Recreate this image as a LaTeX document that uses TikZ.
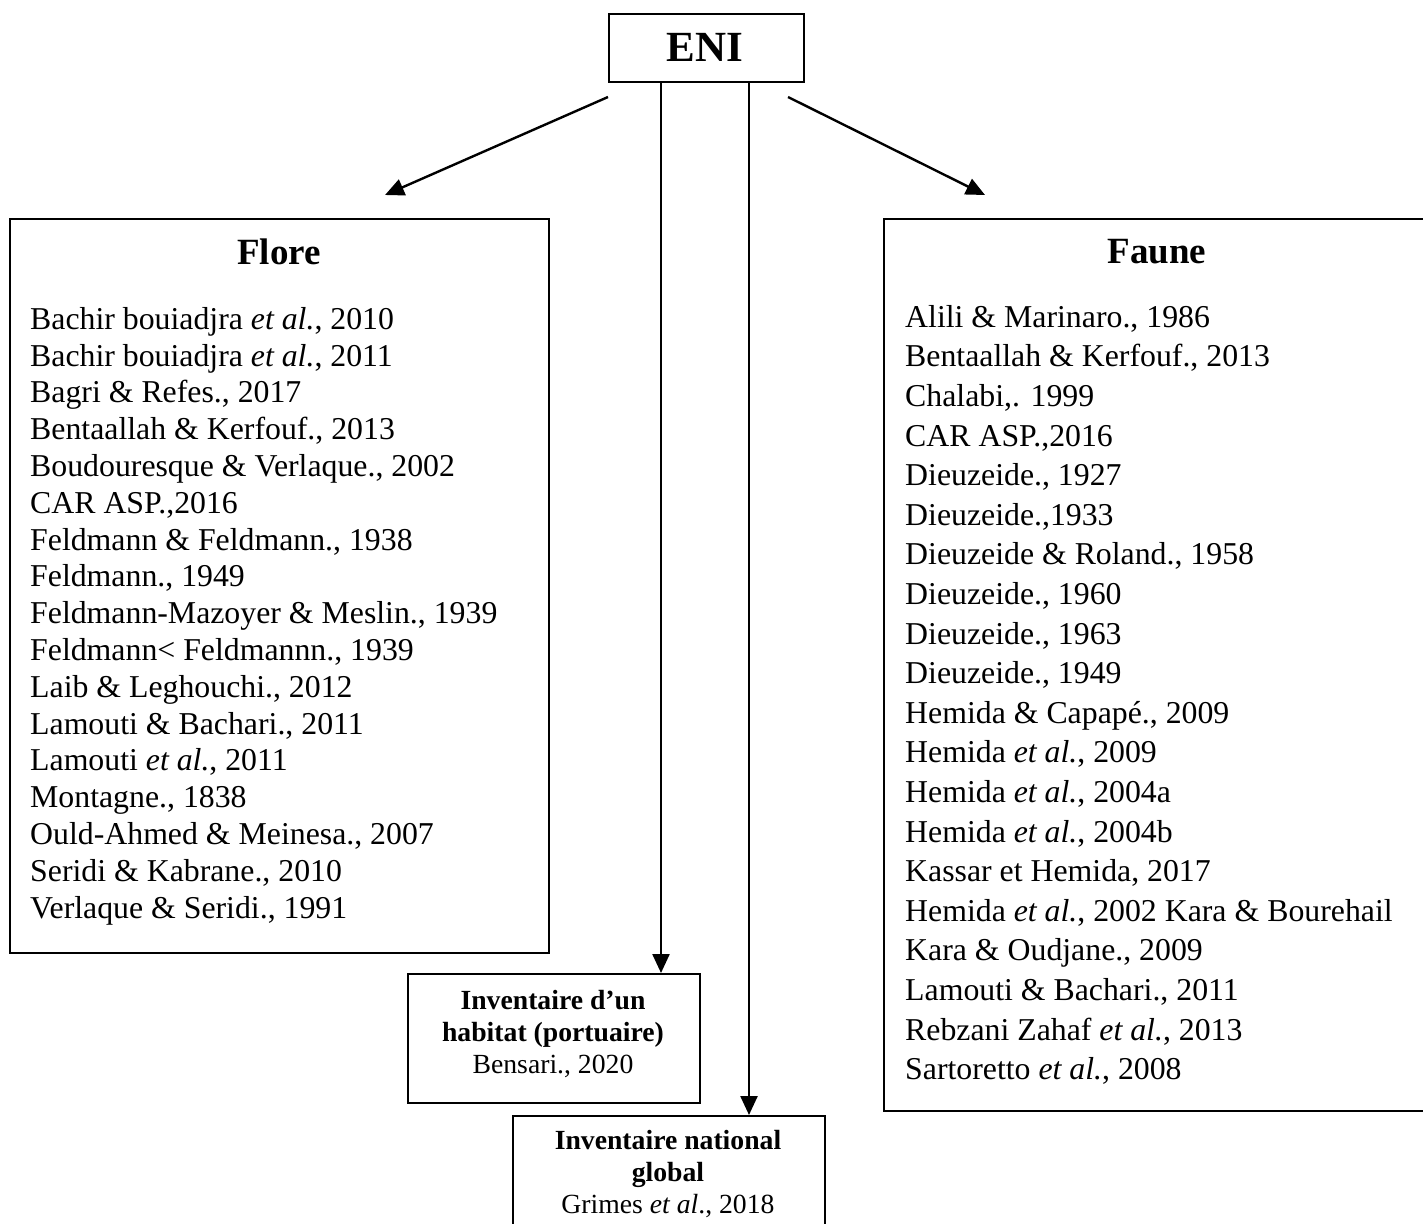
\documentclass[tikz,border=0pt]{standalone}
\usepackage{fontspec}
\setmainfont{Liberation Serif}
\usetikzlibrary{arrows.meta}
\begin{document}
\begin{tikzpicture}[x=1pt,y=-1pt,
  box/.style={draw, line width=2pt, inner sep=0pt, anchor=north west},
  conn/.style={line width=2.4pt, -{Triangle[length=19pt,width=17pt]}},
  ttl/.style={font=\fontsize{37}{40}\selectfont\bfseries, inner sep=0pt},
  lst/.style={font=\fontsize{31.8}{36.8}\selectfont, align=left, inner sep=0pt, anchor=north west},
  lstb/.style={font=\fontsize{31.8}{39.6}\selectfont, align=left, inner sep=0pt, anchor=north west},
  small/.style={font=\fontsize{27.7}{32}\selectfont, align=center, inner sep=0pt}]
\useasboundingbox (0,0) rectangle (1423,1223);
\clip (0,0) rectangle (1423,1223);
\fill[white] (0,0) rectangle (1423,1223);
% boxes
\node[box, minimum width=195pt, minimum height=68pt] (eni) at (608,13) {};
\node[font=\fontsize{43}{46}\selectfont\bfseries, inner sep=0pt] (enit) at (705,47) {ENI};
\node[box, minimum width=539pt, minimum height=734pt] (flore) at (9,218) {};
\node[box, minimum width=560pt, minimum height=892pt] (faune) at (883,218) {};
\node[box, minimum width=292pt, minimum height=129pt] (hab) at (407,973) {};
\node[box, minimum width=312pt, minimum height=160pt] (nat) at (512,1115) {};
% titles
\node[ttl] (floret) at (279,252) {Flore};
\node[ttl] (faunet) at (1157,252) {Faune};
% lists
\node[lst] (florel) at (30,307) {Bachir bouiadjra \textit{et al.}, 2010\\
Bachir bouiadjra \textit{et al.}, 2011\\
Bagri \& Refes., 2017\\
Bentaallah \& Kerfouf., 2013\\
Boudouresque \& Verlaque., 2002\\
CAR ASP.,2016\\
Feldmann \& Feldmann., 1938\\
Feldmann., 1949\\
Feldmann-Mazoyer \& Meslin., 1939\\
Feldmann< Feldmannn., 1939\\
Laib \& Leghouchi., 2012\\
Lamouti \& Bachari., 2011\\
Lamouti \textit{et al.}, 2011\\
Montagne., 1838\\
Ould-Ahmed \& Meinesa., 2007\\
Seridi \& Kabrane., 2010\\
Verlaque \& Seridi., 1991};
\node[lstb] (faunel) at (905,305) {Alili \& Marinaro., 1986\\
Bentaallah \& Kerfouf., 2013\\
Chalabi,. 1999\\
CAR ASP.,2016\\
Dieuzeide., 1927\\
Dieuzeide.,1933\\
Dieuzeide \& Roland., 1958\\
Dieuzeide., 1960\\
Dieuzeide., 1963\\
Dieuzeide., 1949\\
Hemida \& Capapé., 2009\\
Hemida \textit{et al.}, 2009\\
Hemida \textit{et al.}, 2004a\\
Hemida \textit{et al.}, 2004b\\
Kassar et Hemida, 2017\\
Hemida \textit{et al.}, 2002 Kara \& Bourehail\\
Kara \& Oudjane., 2009\\
Lamouti \& Bachari., 2011\\
Rebzani Zahaf \textit{et al.}, 2013\\
Sartoretto \textit{et al.}, 2008};
\node[small] (habt) at (553,1034) {\textbf{Inventaire d’un}\\ \textbf{habitat (portuaire)}\\ Bensari., 2020};
\node[small, anchor=north] (natt) at (668,1130) {\textbf{Inventaire national}\\ \textbf{global}\\ Grimes \textit{et al}., 2018};
% connectors
\coordinate (l0) at (608,97);
\coordinate (l1) at (385,195);
\coordinate (r0) at (788,97);
\coordinate (r1) at (985,195);
\coordinate (v1) at (661,81);
\coordinate (v2) at (749,81);
\draw[conn] (l0) -- (l1);
\draw[conn] (r0) -- (r1);
\draw[conn] (v1) -- (v1 |- hab.north);
\draw[conn] (v2) -- (v2 |- nat.north);
\end{tikzpicture}
\end{document}
